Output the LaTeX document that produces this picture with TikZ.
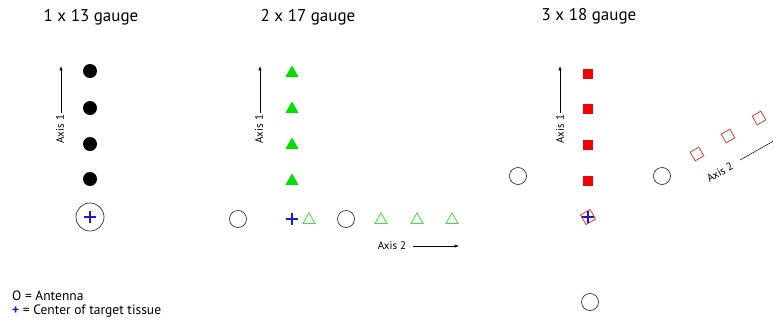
\documentclass[tikz,border=0pt]{standalone}
\usepackage{fontspec}
\setmainfont{PT Sans}
\usetikzlibrary{shapes.geometric,shapes.misc}
\definecolor{dotgreen}{RGB}{0,225,0}
\definecolor{linegreen}{RGB}{60,225,60}
\definecolor{dotred}{RGB}{245,0,0}
\definecolor{linered}{RGB}{235,55,55}
\definecolor{plusblue}{RGB}{25,25,215}
\begin{document}
\begin{tikzpicture}[x=1pt,y=-1pt,
	antenna/.style={draw=black!80,circle,inner sep=0pt,minimum size=17pt,line width=0.7pt},
	bigantenna/.style={antenna,minimum size=28pt},
	dot/.style={fill=black,circle,inner sep=0pt,minimum size=14pt},
	tri/.style={fill=dotgreen,regular polygon,regular polygon sides=3,inner sep=0pt,minimum size=15pt},
	opentri/.style={draw=linegreen,line width=0.8pt,regular polygon,regular polygon sides=3,inner sep=0pt,minimum size=14pt},
	sq/.style={fill=dotred,rectangle,inner sep=0pt,minimum size=10pt},
	opensq/.style={draw=linered,line width=0.8pt,rectangle,inner sep=0pt,minimum size=10pt,rotate=30},
	tissue/.style={draw=plusblue,cross out,line width=1.8pt,inner sep=0pt,minimum size=7pt,rotate=45},
	title/.style={font=\fontsize{17}{19}\selectfont},
	axislabel/.style={font=\fontsize{11}{12}\selectfont,inner sep=0pt},
	keytext/.style={anchor=west,font=\fontsize{13.5}{15}\selectfont,inner sep=0pt},
	axisarrow/.style={-latex,line width=0.5pt}]
	\useasboundingbox (0,0) rectangle (773,322);

	% 1 x 13 gauge
	\node[title] (t1) at (91,17) {1 x 13 gauge};
	\foreach \y [count=\i] in {71,108,144,179}
		\node[dot] (d\i) at (90,\y) {};
	\node[bigantenna] (o1) at (90,217) {};
	\node[tissue] (c1) at (o1) {};
	\coordinate (p1b) at (61,113);
	\coordinate (p1t) at (61,66);
	\draw[axisarrow] (p1b) -- (p1t);
	\node[axislabel,rotate=90] (l1) at (60,129) {Axis 1};

	% 2 x 17 gauge
	\node[title] (t2) at (308,17) {2 x 17 gauge};
	\foreach \y [count=\i] in {71,107,143,179}
		\node[tri] (g\i) at (292,\y+2) {};
	\node[antenna] (o2) at (238,219) {};
	\node[antenna] (o3) at (346,219) {};
	\node[tissue] (c2) at (292,219) {};
	\foreach \x [count=\i] in {309,381,417,452}
		\node[opentri] (h\i) at (\x,220) {};
	\coordinate (p2b) at (260,113);
	\coordinate (p2t) at (260,66);
	\draw[axisarrow] (p2b) -- (p2t);
	\node[axislabel,rotate=90] (l2) at (259,129) {Axis 1};
	\coordinate (q2s) at (413,246);
	\coordinate (q2e) at (459,246);
	\draw[axisarrow] (q2s) -- (q2e);
	\node[axislabel] (m2) at (392,246) {Axis 2};

	% 3 x 18 gauge
	\node[title] (t3) at (589,16) {3 x 18 gauge};
	\foreach \y [count=\i] in {74,109,145,181}
		\node[sq] (s\i) at (588,\y) {};
	\node[opensq,minimum size=11pt] (r0) at (588,217) {};
	\node[tissue] (c3) at (588,217) {};
	\foreach \x/\y [count=\i] in {697/154,728/136,759/118}
		\node[opensq] (r\i) at (\x,\y) {};
	\node[antenna] (o4) at (518,176) {};
	\node[antenna] (o5) at (662,176) {};
	\node[antenna] (o6) at (590,302) {};
	\coordinate (p3b) at (560,113);
	\coordinate (p3t) at (560,66);
	\draw[axisarrow] (p3b) -- (p3t);
	\node[axislabel,rotate=90] (l3) at (560,129) {Axis 1};
	\coordinate (q3s) at (740,160);
	\coordinate (q3e) at (802,125);
	\draw[axisarrow] (q3s) -- (q3e);
	\node[axislabel,rotate=30] (m3) at (720,172) {Axis 2};

	% legend
	\node[keytext] (k1) at (12,296) {O = Antenna};
	\node[keytext] (k2) at (12,311) {\textcolor{plusblue}{\textbf{+}} = Center of target tissue};
\end{tikzpicture}
\end{document}
